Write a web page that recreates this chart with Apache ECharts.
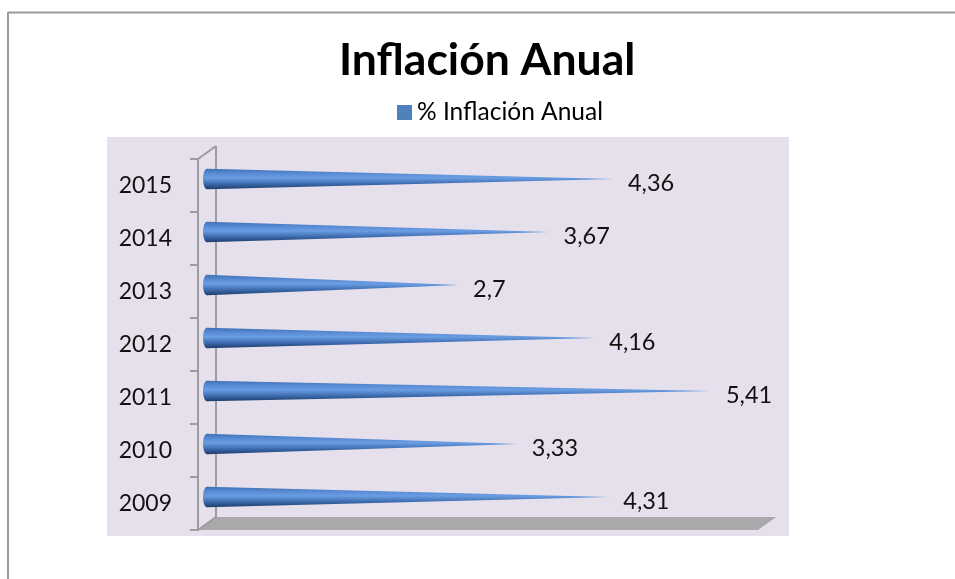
<!DOCTYPE html>
<html>
<head>
<meta charset="utf-8">
<script src="https://cdn.jsdelivr.net/npm/echarts@6/dist/echarts.min.js"></script>
<style>
  html, body { margin: 0; padding: 0; background: #ffffff; }
  #chart { width: 955px; height: 579px; }
</style>
</head>
<body>
<div id="chart"></div>
<script>
// Annual inflation, one value per year
const years = ['2009', '2010', '2011', '2012', '2013', '2014', '2015'];
const inflation = [4.31, 3.33, 5.41, 4.16, 2.7, 3.67, 4.36];
const seriesName = '% Inflación Anual';
const chartTitle = 'Inflación Anual';

// Layout of the plot (pixels)
const GRID = { left: 198, top: 159, width: 560, height: 371 };
const DEPTH_X = 18;     // 3D depth offset of the back wall
const DEPTH_Y = -13;
const FONT = 'Lato, "Open Sans", sans-serif';

const coneFill = new echarts.graphic.LinearGradient(0, 0, 0, 1, [
  { offset: 0.00, color: '#3f70b4' },
  { offset: 0.25, color: '#5a8dd5' },
  { offset: 0.45, color: '#6a9de2' },
  { offset: 0.75, color: '#3a68aa' },
  { offset: 1.00, color: '#1d3c69' }
]);

function fmt(v) { return String(v).replace('.', ','); }

const chart = echarts.init(document.getElementById('chart'), null, { renderer: 'canvas' });

const gLeft = GRID.left, gTop = GRID.top, gBottom = GRID.top + GRID.height, gRight = GRID.left + GRID.width;

chart.setOption({
  backgroundColor: '#ffffff',
  animation: false,
  title: {
    text: chartTitle,
    left: 339,
    top: 38,
    padding: 0,
    textStyle: { fontFamily: FONT, fontWeight: 'bold', fontSize: 44.5, color: '#000000' }
  },
  legend: {
    data: [seriesName],
    left: 397,
    top: 100,
    padding: 0,
    icon: 'rect',
    itemWidth: 15,
    itemHeight: 15,
    textStyle: { fontFamily: FONT, fontSize: 24.5, color: '#000000' }
  },
  graphic: [
    // chart frame
    { type: 'line', z: -20, shape: { x1: 8, y1: 12.5, x2: 955, y2: 12.5 }, style: { stroke: '#9a9a9a', lineWidth: 2 } },
    { type: 'line', z: -20, shape: { x1: 8, y1: 12, x2: 8, y2: 579 }, style: { stroke: '#9a9a9a', lineWidth: 2 } },
    // plot area
    { type: 'rect', z: -20, shape: { x: 107, y: 137, width: 682, height: 399 }, style: { fill: '#e6e0ec' } },
    // floor
    { type: 'polygon', z: -10, shape: { points: [[gLeft, gBottom], [gLeft + DEPTH_X, gBottom + DEPTH_Y], [gRight + DEPTH_X, gBottom + DEPTH_Y], [gRight, gBottom]] },
      style: { fill: '#a9a9ab' } },
    // back wall edge and side wall diagonals
    { type: 'line', z: -10, shape: { x1: gLeft + DEPTH_X, y1: gTop + DEPTH_Y, x2: gLeft + DEPTH_X, y2: gBottom + DEPTH_Y }, style: { stroke: '#9c9c9c', lineWidth: 2 } },
    { type: 'line', z: -10, shape: { x1: gLeft, y1: gTop, x2: gLeft + DEPTH_X, y2: gTop + DEPTH_Y }, style: { stroke: '#9c9c9c', lineWidth: 2 } },
    { type: 'line', z: -10, shape: { x1: gLeft, y1: gBottom, x2: gLeft + DEPTH_X, y2: gBottom + DEPTH_Y }, style: { stroke: '#9c9c9c', lineWidth: 2 } }
  ],
  grid: { left: GRID.left, top: GRID.top, width: GRID.width, height: GRID.height, containLabel: false },
  xAxis: {
    type: 'value',
    min: 0,
    max: 6,
    show: false
  },
  yAxis: {
    type: 'category',
    data: years,
    axisLine: { show: true, lineStyle: { color: '#9c9c9c', width: 2 } },
    axisTick: { show: true, length: 8, lineStyle: { color: '#9c9c9c', width: 2 } },
    axisLabel: { margin: 26, fontFamily: FONT, fontSize: 23, color: '#111111', padding: [3, 0, 0, 0] },
    splitLine: { show: false }
  },
  series: [{
    name: seriesName,
    type: 'custom',
    itemStyle: { color: '#4f81bd' },
    encode: { x: 0, y: 1 },
    data: inflation.map((v, i) => [v, i]),
    renderItem: function (params, api) {
      const v = api.value(0);
      const c = api.value(1);
      const base = api.coord([0, c]);
      const tip = api.coord([v, c]);
      const band = api.size([0, 1])[1];
      const r = band * 0.195;
      const ox = DEPTH_X / 2, oy = DEPTH_Y / 2;
      const bx = base[0] + ox, cy = base[1] + oy, tx = tip[0] + ox;
      return {
        type: 'group',
        children: [
          { type: 'polygon', shape: { points: [[bx, cy - r], [tx, cy], [bx, cy + r]] }, style: { fill: coneFill } },
          { type: 'ellipse', shape: { cx: bx, cy: cy, rx: 4, ry: r }, style: { fill: coneFill } },
          { type: 'text', style: { x: tx + 14, y: cy + 4, text: fmt(v), fontFamily: FONT, fontSize: 23.5, fill: '#111111', align: 'left', verticalAlign: 'middle' } }
        ]
      };
    }
  }]
});
</script>
</body>
</html>
